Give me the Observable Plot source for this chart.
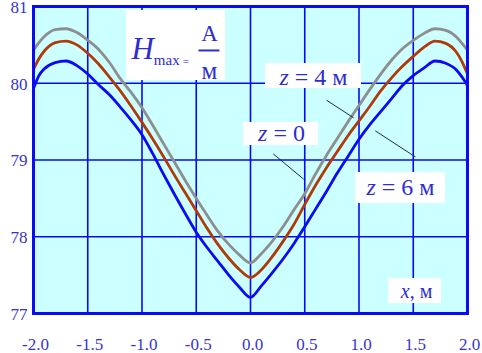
<!DOCTYPE html>
<html><head><meta charset="utf-8">
<script src="https://cdn.jsdelivr.net/npm/d3@7"></script>
<script src="https://cdn.jsdelivr.net/npm/@observablehq/plot@0.6"></script>
<style>body{margin:0;background:#fff} svg text{font-family:"Liberation Serif",serif}</style>
</head><body><div id="chart"></div>
<script>
// x positions, m
const xs = [-2.0,-1.95,-1.9,-1.8,-1.7,-1.6,-1.5,-1.4,-1.3,-1.2,-1.1,-1.0,-0.9,-0.8,-0.7,-0.6,-0.5,-0.4,-0.3,-0.2,-0.1,0,
            0.1,0.2,0.3,0.4,0.5,0.6,0.7,0.8,0.9,1.0,1.1,1.2,1.3,1.4,1.5,1.6,1.7,1.8,1.9,1.95,2.0];
// H max, A/m — z = 0 (gray)
const hZ0 = [80.43,80.53,80.61,80.70,80.71,80.66,80.56,80.44,80.27,80.06,79.88,79.68,79.45,79.21,78.97,78.73,78.50,78.28,78.07,77.90,77.76,77.66,
             77.78,77.94,78.13,78.35,78.56,78.82,79.06,79.28,79.50,79.71,79.92,80.12,80.30,80.45,80.56,80.65,80.71,80.69,80.60,80.52,80.43];
// z = 4 m (brown)
const hZ4 = [80.18,80.32,80.42,80.53,80.55,80.50,80.39,80.25,80.08,79.90,79.70,79.49,79.27,79.04,78.80,78.57,78.34,78.11,77.90,77.72,77.57,77.47,
             77.57,77.74,77.94,78.16,78.42,78.67,78.90,79.11,79.32,79.51,79.70,79.90,80.07,80.22,80.35,80.47,80.55,80.52,80.40,80.28,80.12];
// z = 6 m (blue)
const hZ6 = [79.93,80.10,80.19,80.27,80.29,80.23,80.12,79.98,79.85,79.69,79.52,79.33,79.08,78.81,78.55,78.30,78.06,77.86,77.68,77.50,77.34,77.21,
             77.36,77.53,77.71,77.91,78.13,78.36,78.59,78.83,79.05,79.27,79.46,79.63,79.80,79.97,80.10,80.20,80.29,80.26,80.17,80.08,79.97];
const xTicks = [-2.0,-1.5,-1.0,-0.5,0.0,0.5,1.0,1.5,2.0];
const yTicks = [77,78,79,80,81];

const seriesNames = ["z = 0", "z = 4 м", "z = 6 м"];
const seriesColors = ["#8e8e8e", "#b03a08", "#0a0af5"];
const seriesValues = [hZ0, hZ4, hZ6];
const rows = seriesNames.flatMap((name, s) => xs.map((x, i) => ({series: name, x, h: seriesValues[s][i]})));

// annotation boxes & labels (data coordinates)
const boxes = [
  {x1:-1.143, x2:-0.230, y1:80.948, y2:80.036},
  {x1:0.138, x2:1.023, y1:80.257, y2:79.932},
  {x1:-0.065, x2:0.627, y1:79.489, y2:79.189},
  {x1:0.968, x2:1.797, y1:78.837, y2:78.433},
  {x1:1.272, x2:1.760, y1:77.456, y2:77.130}
];
const zLabels = [
  {x:0.286, y:79.345, it:"z", rest:" = 0"},
  {x:0.580, y:80.075, it:"z", rest:" = 4 м"},
  {x:1.382, y:78.640, it:"z", rest:" = 6 м"}
];
const axisLabel = [{x:1.530, y:77.290, it:"x", rest:", м"}];
const leaders = [
  {x1:0.21, y1:79.08, x2:0.49, y2:78.75},
  {x1:0.70, y1:79.78, x2:0.95, y2:79.55},
  {x1:1.15, y1:79.38, x2:1.52, y2:79.04}
];
const unitTitle = [{x:-1.097, y:80.39}];
const fracTop = [{x:-0.378, y:80.648, t:"A"}];
const fracBottom = [{x:-0.378, y:80.155, t:"м"}];
const fracBar = [{x1:-0.479, x2:-0.286, y:80.427}];

const FONT = "Liberation Serif";
const TXT = "#2d2dd2";
function richText(data, opts) {
  return Plot.text(data, {...opts, fontFamily: FONT, text: d => d.it + d.rest, render(index, scales, values, dims, ctx, next) {
    const g = next(index, scales, values, dims, ctx);
    d3.select(g).selectAll("text").nodes().forEach((node, k) => {
      const d = data[index[k]];
      const t = d3.select(node);
      t.text(null);
      t.append("tspan").attr("font-style", "italic").text(d.it);
      t.append("tspan").style("white-space", "pre").text(d.rest);
    });
    return g;
  }});
}

const chart = Plot.plot({
  width: 482, height: 353,
  marginLeft: 33, marginRight: 15, marginTop: 6, marginBottom: 40,
  style: {fontFamily: FONT, fontSize: "17px", color: "#3535cf", background: "#fff"},
  x: {domain: [-2, 2]},
  y: {domain: [77, 81]},
  color: {domain: seriesNames, range: seriesColors},
  marks: [
    Plot.frame({fill: "#ccffff", stroke: null}),
    Plot.gridX(xTicks, {stroke: "#0a0af0", strokeOpacity: 1, strokeWidth: 1.6}),
    Plot.gridY(yTicks, {stroke: "#0a0af0", strokeOpacity: 1, strokeWidth: 1.6}),
    Plot.rect(boxes, {x1:"x1", x2:"x2", y1:"y1", y2:"y2", fill: "white"}),
    Plot.line(rows, {x: "x", y: "h", z: "series", stroke: "series", strokeWidth: 2.8, curve: "monotone-x"}),
    Plot.link(leaders, {x1:"x1", y1:"y1", x2:"x2", y2:"y2", stroke: "#1c2c48", strokeWidth: 1}),
    richText(zLabels, {x:"x", y:"y", fill: TXT, fontSize: 24, textAnchor: "middle"}),
    richText(axisLabel, {x:"x", y:"y", fill: TXT, fontSize: 20, textAnchor: "middle"}),
    Plot.text(unitTitle, {x:"x", y:"y", text: () => "H", fill: TXT, fontFamily: FONT, textAnchor: "start", render(index, scales, values, dims, ctx, next) {
      const g = next(index, scales, values, dims, ctx);
      d3.select(g).selectAll("text").each(function() {
        const t = d3.select(this);
        t.text(null);
        t.append("tspan").attr("font-style", "italic").attr("font-size", 31).text("H");
        t.append("tspan").attr("font-size", 15).attr("dy", 6).text("max");
        t.append("tspan").attr("font-size", 11).attr("dx", 3).text("=");
      });
      return g;
    }}),
    Plot.text(fracTop, {x:"x", y:"y", text:"t", fill: TXT, fontFamily: FONT, fontSize: 23}),
    Plot.text(fracBottom, {x:"x", y:"y", text:"t", fill: TXT, fontFamily: FONT, fontSize: 25}),
    Plot.link(fracBar, {x1:"x1", x2:"x2", y1:"y", y2:"y", stroke: TXT, strokeWidth: 2}),
    Plot.frame({stroke: "#0a0af5", strokeWidth: 3}),
    Plot.axisY(yTicks, {tickSize: 0, tickPadding: 6, tickFormat: d => String(d), fontSize: 17, fontFamily: FONT, dy: 1, label: null}),
    Plot.axisX(xTicks, {tickSize: 0, tickPadding: 24, tickFormat: d => d.toFixed(1), fontSize: 17, fontFamily: FONT, dx: 2, label: null})
  ]
});
document.getElementById("chart").appendChild(chart);
</script>
</body></html>
